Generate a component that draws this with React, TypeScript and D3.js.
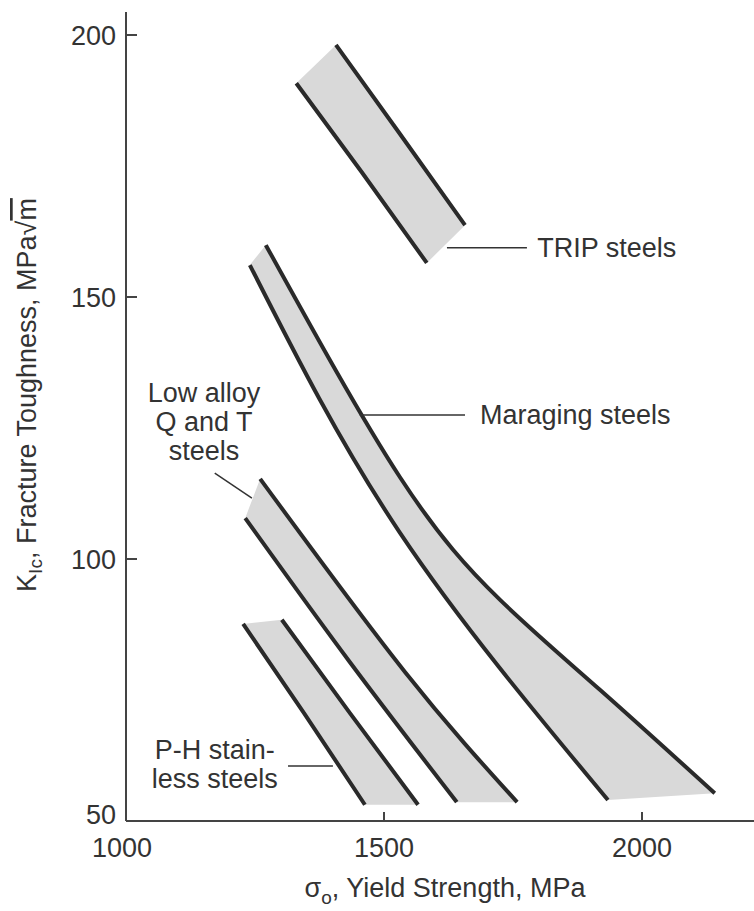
import React, { useRef, useEffect } from 'react';
import * as d3 from 'd3';

type Pt = [number, number];

// boundary curves: [yield strength MPa, K_Ic MPa√m]
const tripLower: Pt[] = [[1330, 190.8], [1457, 173.8], [1583, 156.5]];
const tripUpper: Pt[] = [[1407, 198.1], [1531, 181.1], [1657, 163.7]];
const maragingLower: Pt[] = [[1240, 156.1], [1531, 105.0], [1934, 54.0]];
const maragingUpper: Pt[] = [[1271, 159.9], [1531, 115.6], [1725, 92.2], [1919, 75.0], [2141, 55.3]];
const qtLower: Pt[] = [[1231, 107.8], [1434, 80.3], [1641, 53.6]];
const qtUpper: Pt[] = [[1260, 115.3], [1541, 78.4], [1758, 53.6]];
const phLower: Pt[] = [[1227, 87.6], [1345, 70.6], [1463, 53.1]];
const phUpper: Pt[] = [[1302, 88.4], [1434, 70.6], [1566, 53.1]];

const xTicks = [1000, 1500, 2000];
const yTicks = [50, 100, 150, 200];

const bands = [
  { name: 'TRIP steels', lower: tripLower, upper: tripUpper },
  { name: 'Maraging steels', lower: maragingLower, upper: maragingUpper },
  { name: 'Low alloy Q and T steels', lower: qtLower, upper: qtUpper },
  { name: 'P-H stainless steels', lower: phLower, upper: phUpper },
];

// callouts, in data units
const callouts = [
  { lines: ['TRIP steels'], at: [1797, 159.4], anchor: 'start', leader: [[1622, 159.4], [1777, 159.4]] },
  { lines: ['Maraging steels'], at: [1686, 127.5], anchor: 'start', leader: [[1453, 127.5], [1657, 127.5]] },
  { lines: ['Low alloy', 'Q and T', 'steels'], at: [1151, 131.5], anchor: 'middle', leader: [[1172, 116.4], [1244, 111.6]] },
  { lines: ['P-H stain-', 'less steels'], at: [1172, 63.4], anchor: 'middle', leader: [[1314, 60.5], [1401, 60.5]] },
];

const W = 754;
const H = 911;
const FONT = '"Liberation Sans", Arial, Helvetica, sans-serif';
const INK = '#2a2a2a';
const FS = '27px';

const App: React.FC = () => {
  const svgRef = useRef<SVGSVGElement>(null);

  useEffect(() => {
    if (!svgRef.current) return;
    document.body.style.margin = '0';
    const svg = d3.select(svgRef.current);
    svg.selectAll('*').remove();

    const x = d3.scaleLinear().domain([1000, 2000]).range([126, 642]);
    const y = d3.scaleLinear().domain([50, 200]).range([821, 35]);

    const line = d3.line<Pt>()
      .x(d => x(d[0]))
      .y(d => y(d[1]))
      .curve(d3.curveNatural);

    // shaded bands
    bands.forEach(b => {
      const a = line(b.lower) as string;
      const r = (line([...b.upper].reverse()) as string).replace(/^M/, 'L');
      svg.append('path')
        .attr('d', a + r + 'Z')
        .attr('fill', '#d9d9d9')
        .attr('stroke', 'none');
    });

    // boundary lines
    bands.forEach(b => {
      [b.lower, b.upper].forEach(pts => {
        svg.append('path')
          .attr('d', line(pts) as string)
          .attr('fill', 'none')
          .attr('stroke', INK)
          .attr('stroke-width', 4);
      });
    });

    // axes
    svg.append('line')
      .attr('x1', x(1000)).attr('x2', W)
      .attr('y1', y(50)).attr('y2', y(50))
      .attr('stroke', '#444').attr('stroke-width', 2);
    svg.append('line')
      .attr('x1', x(1000)).attr('x2', x(1000))
      .attr('y1', 12).attr('y2', y(50))
      .attr('stroke', '#444').attr('stroke-width', 2);

    xTicks.forEach(t => {
      svg.append('line')
        .attr('x1', x(t)).attr('x2', x(t))
        .attr('y1', y(50)).attr('y2', y(50) - 9)
        .attr('stroke', '#444').attr('stroke-width', 2);
      svg.append('text')
        .attr('x', x(t) - (t === 1000 ? 4 : 0)).attr('y', y(50) + 36)
        .attr('text-anchor', 'middle')
        .style('font-family', FONT).style('font-size', FS).attr('fill', '#333')
        .text(t);
    });

    yTicks.forEach(t => {
      svg.append('line')
        .attr('x1', x(1000)).attr('x2', x(1000) + 11)
        .attr('y1', y(t)).attr('y2', y(t))
        .attr('stroke', '#444').attr('stroke-width', 2);
      svg.append('text')
        .attr('x', 116).attr('y', y(t) + (t === 50 ? -6 : 1))
        .attr('text-anchor', 'end')
        .attr('dominant-baseline', 'central')
        .style('font-family', FONT).style('font-size', FS).attr('fill', '#333')
        .text(t);
    });

    // x title
    const xt = svg.append('text')
      .attr('x', 445).attr('y', 897)
      .attr('text-anchor', 'middle')
      .style('font-family', FONT).style('font-size', FS).attr('fill', '#333');
    xt.append('tspan').text('σ');
    xt.append('tspan').attr('dy', 7).style('font-size', '19px').text('o');
    xt.append('tspan').attr('dy', -7).text(', Yield Strength, MPa');

    // y title
    const yt = svg.append('text')
      .attr('transform', 'translate(36,395) rotate(-90)')
      .attr('text-anchor', 'middle')
      .style('font-family', FONT).style('font-size', FS).attr('fill', '#333');
    yt.append('tspan').text('K');
    yt.append('tspan').attr('dy', 6).style('font-size', '19px').text('Ic');
    yt.append('tspan').attr('dy', -6).text(', Fracture Toughness, MPa');
    yt.append('tspan').text('√');
    yt.append('tspan').style('text-decoration', 'overline').text('m');

    // callouts
    callouts.forEach(c => {
      svg.append('line')
        .attr('x1', x(c.leader[0][0])).attr('y1', y(c.leader[0][1]))
        .attr('x2', x(c.leader[1][0])).attr('y2', y(c.leader[1][1]))
        .attr('stroke', '#333').attr('stroke-width', 1.5);
      const tx = svg.append('text')
        .attr('text-anchor', c.anchor)
        .style('font-family', FONT).style('font-size', FS).attr('fill', '#333');
      const y0 = y(c.at[1]);
      c.lines.forEach((s, i) => {
        tx.append('tspan')
          .attr('x', x(c.at[0]))
          .attr('y', c.lines.length === 1 ? y0 + 9 : y0 + 29 * i + 8)
          .text(s);
      });
    });
  }, []);

  return (
    <div style={{ width: W, height: H, background: '#fff' }}>
      <svg ref={svgRef} width={W} height={H} viewBox={`0 0 ${W} ${H}`} style={{ display: 'block' }} />
    </div>
  );
};

export default App;
